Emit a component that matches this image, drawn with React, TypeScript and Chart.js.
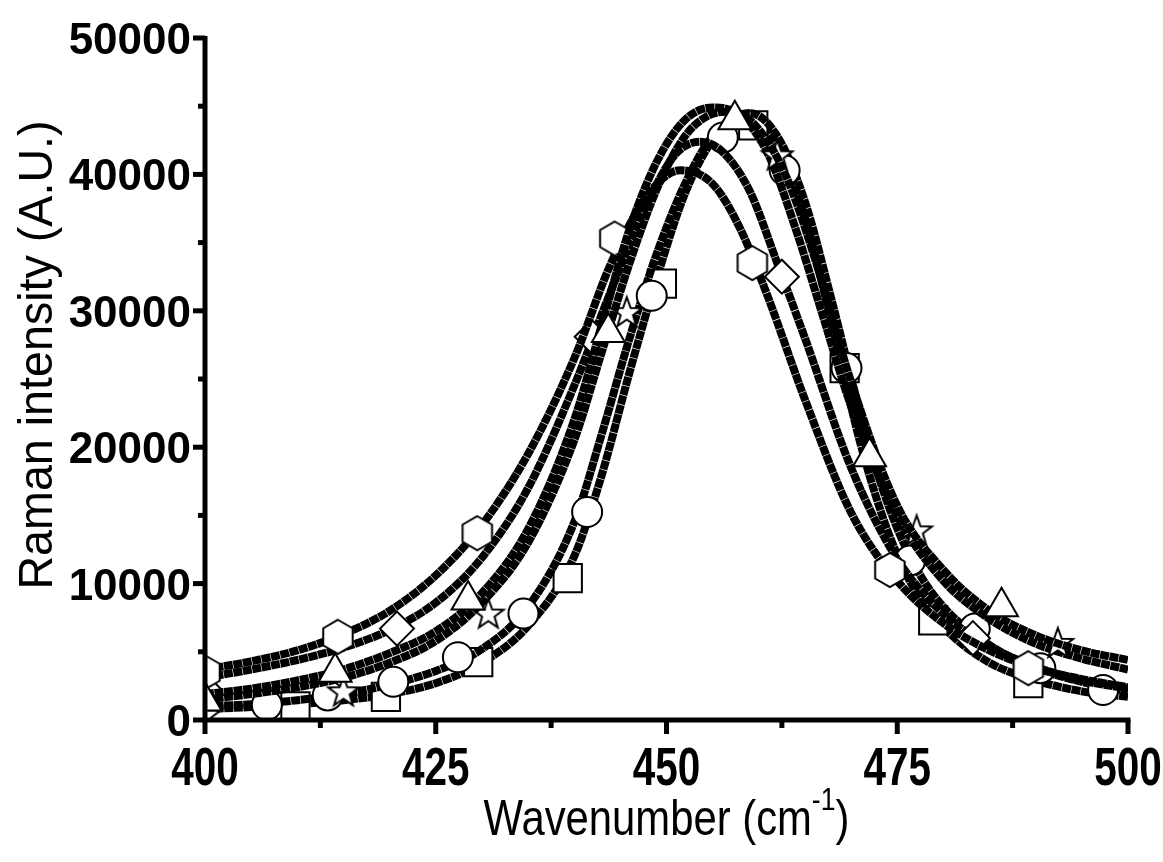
import React, { useEffect, useRef } from "react";
import { Chart, registerables } from "chart.js";

Chart.register(...registerables);

const FONT = '"Liberation Sans", Arial, Helvetica, sans-serif';

// ---- axes ----
const X_MIN = 400;
const X_MAX = 500;
const Y_MIN = 0;
const Y_MAX = 50000;
const X_STEP = 12.5; // minor step; labels every 25
const Y_STEP = 5000; // minor step; labels every 10000
const X_TITLE = "Wavenumber (cm";
const X_TITLE_SUP = "-1";
const X_TITLE_END = ")";
const Y_TITLE = "Raman intensity (A.U.)";

// ---- fitted curves ----
const hexCurveX = [400, 405, 410, 415, 420, 425, 430, 435, 440, 444, 448, 451.5, 455, 458, 461, 465, 470, 475, 480, 485, 490, 495, 500];
const hexCurveY = [3700, 4300, 5100, 6300, 8000, 10600, 14300, 19500, 26500, 33500, 38500, 40300, 39300, 36000, 31000, 23500, 15200, 10200, 7100, 5100, 3800, 3000, 2400];

const diaCurveX = [400, 405, 410, 415, 420, 425, 430, 435, 440, 444, 448, 451, 453.6, 456, 459, 462, 465, 470, 475, 480, 485, 490, 495, 500];
const diaCurveY = [3100, 3700, 4400, 5300, 6600, 8600, 11900, 17000, 24500, 31500, 38000, 41500, 42400, 41700, 38800, 33500, 28000, 18500, 11800, 7800, 5400, 3900, 2900, 2300];

const starCurveX = [400, 405, 410, 415, 420, 425, 430, 435, 440, 443, 446, 449, 452, 455, 458, 461, 464, 467, 470, 475, 480, 485, 490, 495, 500];
const starCurveY = [1900, 2300, 2900, 3700, 4900, 6500, 9300, 14000, 22000, 29000, 36000, 41000, 44000, 44900, 44300, 41500, 36000, 29500, 23000, 15000, 10200, 7400, 5600, 4500, 3700];

const triCurveX = [400, 405, 410, 415, 420, 425, 430, 435, 440, 443, 446, 449, 452, 454.5, 457, 460, 463, 466, 470, 475, 480, 485, 490, 495, 500];
const triCurveY = [1500, 1900, 2400, 3100, 4200, 5800, 8600, 13000, 20500, 27000, 33500, 39000, 42800, 44300, 44600, 43300, 39800, 34000, 24800, 15700, 11000, 8000, 6200, 5100, 4400];

const cirCurveX = [400, 405, 410, 415, 420, 425, 430, 435, 440, 443, 446, 449, 452, 455, 459, 462, 465, 468, 471, 474, 477, 480, 485, 490, 495, 500];
const cirCurveY = [1000, 1150, 1450, 1900, 2600, 3600, 5200, 8300, 14500, 21000, 28000, 34300, 39300, 42800, 44500, 42800, 38000, 30500, 22500, 15800, 11200, 8300, 5500, 3800, 2800, 2100];

const sqCurveX = [400, 405, 410, 415, 420, 425, 430, 435, 440, 443, 446, 449, 452, 455, 458.5, 462, 465, 468, 471, 474, 477, 480, 485, 490, 495, 500];
const sqCurveY = [800, 950, 1150, 1450, 1900, 2700, 4200, 6900, 12000, 18000, 25500, 32500, 38600, 42500, 44300, 42200, 36800, 28800, 20300, 13800, 9400, 6800, 4200, 2900, 2100, 1700];

// ---- measured points (markers) ----
const hexMarkX = [400, 414.4, 429.5, 444.4, 459.3, 474.2, 489.2];
const hexMarkY = [3500, 6100, 13700, 35300, 33500, 11000, 3800];

const diaMarkX = [400, 420.8, 441.9, 462.5, 483.2];
const diaMarkY = [2200, 6700, 28100, 32500, 6000];

const triMarkX = [400, 414.1, 428.5, 443.7, 457.4, 472, 486.3];
const triMarkY = [1400, 3500, 8800, 28400, 44000, 19300, 8300];

const starMarkX = [400, 415, 430.7, 445.7, 462, 477.1, 492.4];
const starMarkY = [400, 2100, 7800, 29900, 41400, 13900, 5650];

const sqMarkX = [409.8, 419.6, 429.6, 439.3, 449.5, 459.4, 469.3, 478.9, 489.2];
const sqMarkY = [1000, 1700, 4250, 10400, 32000, 43600, 25800, 7300, 2700];

const cirMarkX = [406.7, 413.3, 420.4, 427.4, 434.5, 441.4, 448.4, 456.1, 462.8, 469.5, 476.4, 483.4, 490.5, 497.3];
const cirMarkY = [1100, 1800, 2800, 4600, 7800, 15250, 31100, 42700, 40300, 25800, 11700, 6700, 3800, 2200];

const zip = (xs: number[], ys: number[]) => xs.map((x, i) => ({ x, y: ys[i] }));

function makeHexagon(r: number, lw: number): HTMLCanvasElement {
  const c = document.createElement("canvas");
  const s = Math.ceil(2 * r + 2 * lw + 2);
  c.width = s;
  c.height = s;
  const g = c.getContext("2d")!;
  g.translate(s / 2, s / 2);
  g.beginPath();
  for (let k = 0; k < 6; k++) {
    const a = -Math.PI / 2 + (k * Math.PI) / 3;
    const px = r * Math.cos(a);
    const py = r * Math.sin(a);
    if (k === 0) g.moveTo(px, py);
    else g.lineTo(px, py);
  }
  g.closePath();
  g.fillStyle = "#fff";
  g.fill();
  g.lineWidth = lw;
  g.strokeStyle = "#000";
  g.lineJoin = "miter";
  g.stroke();
  return c;
}

function makeStar(R: number, rin: number, lw: number): HTMLCanvasElement {
  const c = document.createElement("canvas");
  const s = Math.ceil(2 * R + 2 * lw + 4);
  c.width = s;
  c.height = s;
  const g = c.getContext("2d")!;
  g.translate(s / 2, s / 2 + 1);
  g.beginPath();
  for (let k = 0; k < 10; k++) {
    const a = -Math.PI / 2 + (k * Math.PI) / 5;
    const rr = k % 2 === 0 ? R : rin;
    const px = rr * Math.cos(a);
    const py = rr * Math.sin(a);
    if (k === 0) g.moveTo(px, py);
    else g.lineTo(px, py);
  }
  g.closePath();
  g.fillStyle = "#fff";
  g.fill();
  g.lineWidth = lw;
  g.strokeStyle = "#000";
  g.lineJoin = "miter";
  g.stroke();
  return c;
}

const originAxes = {
  id: "originAxes",
  afterDatasetsDraw(chart: any) {
    const { ctx, chartArea: a, scales } = chart;
    const xs = scales.x;
    const ys = scales.y;
    ctx.save();
    ctx.strokeStyle = "#000";
    ctx.fillStyle = "#000";
    ctx.lineCap = "butt";
    ctx.lineWidth = 5;
    ctx.beginPath();
    ctx.moveTo(a.left, a.top - 2);
    ctx.lineTo(a.left, a.bottom + 2.5);
    ctx.moveTo(a.left - 2.5, a.bottom);
    ctx.lineTo(a.right + 2.5, a.bottom);
    ctx.stroke();

    // y ticks + labels
    ctx.font = `bold 44px ${FONT}`;
    ctx.textAlign = "right";
    ctx.textBaseline = "alphabetic";
    ys.ticks.forEach((t: any) => {
      const py = ys.getPixelForValue(t.value);
      const major = Math.round(t.value) % 10000 === 0;
      const len = major ? 12 : 7;
      ctx.beginPath();
      ctx.moveTo(a.left, py);
      ctx.lineTo(a.left - len, py);
      ctx.stroke();
      if (major) {
        ctx.fillText(String(Math.round(t.value)), a.left - 14, py + 16);
      }
    });

    // x ticks + labels
    ctx.textAlign = "center";
    xs.ticks.forEach((t: any) => {
      const px = xs.getPixelForValue(t.value);
      const major = Math.abs(t.value / 25 - Math.round(t.value / 25)) < 1e-6;
      const len = major ? 14 : 8;
      ctx.beginPath();
      ctx.moveTo(px, a.bottom);
      ctx.lineTo(px, a.bottom + len);
      ctx.stroke();
      if (major) {
        ctx.save();
        ctx.translate(px, 785);
        ctx.scale(0.92, 1.2);
        ctx.fillText(String(Math.round(t.value)), 0, 0);
        ctx.restore();
      }
    });

    // y title
    ctx.save();
    ctx.font = `44px ${FONT}`;
    ctx.translate(52, (a.top + a.bottom) / 2 - 24);
    ctx.rotate(-Math.PI / 2);
    ctx.scale(1.06, 1.1);
    ctx.textAlign = "center";
    ctx.fillText(Y_TITLE, 0, 0);
    ctx.restore();

    // x title with superscript
    ctx.save();
    ctx.font = `44px ${FONT}`;
    ctx.textAlign = "left";
    const w1 = ctx.measureText(X_TITLE).width;
    ctx.font = `28px ${FONT}`;
    const w2 = ctx.measureText(X_TITLE_SUP).width;
    ctx.font = `44px ${FONT}`;
    const w3 = ctx.measureText(X_TITLE_END).width;
    const sx = 0.95;
    const total = (w1 + w2 + w3) * sx;
    const cx = (a.left + a.right) / 2;
    ctx.translate(cx - total / 2, 835);
    ctx.scale(sx, 1.12);
    ctx.fillText(X_TITLE, 0, 0);
    ctx.font = `28px ${FONT}`;
    ctx.fillText(X_TITLE_SUP, w1, -22);
    ctx.font = `44px ${FONT}`;
    ctx.fillText(X_TITLE_END, w1 + w2, 0);
    ctx.restore();

    ctx.restore();
  },
};

export default function App() {
  const ref = useRef<HTMLCanvasElement | null>(null);

  useEffect(() => {
    if (!ref.current) return;
    const hex = makeHexagon(17, 2);
    const star = makeStar(16, 6.5, 2);

    const lineDs = (data: { x: number; y: number }[], order: number) => ({
      type: "line" as const,
      data,
      borderColor: "#000",
      borderWidth: 8,
      borderDash: [9, 0.6],
      pointRadius: 0,
      pointHoverRadius: 0,
      cubicInterpolationMode: "monotone" as const,
      fill: false,
      order,
    });
    const markDs = (data: { x: number; y: number }[], style: any, radius: number, order: number) => ({
      type: "line" as const,
      data,
      showLine: false,
      pointStyle: style,
      pointRadius: radius,
      pointHoverRadius: radius,
      pointBackgroundColor: "#fff",
      pointBorderColor: "#000",
      pointBorderWidth: 2,
      clip: 0,
      order,
    });

    const chart = new Chart(ref.current, {
      type: "line",
      data: {
        datasets: [
          lineDs(zip(sqCurveX, sqCurveY), 12),
          markDs(zip(sqMarkX, sqMarkY), "rect", 20, 11),
          lineDs(zip(cirCurveX, cirCurveY), 10),
          markDs(zip(cirMarkX, cirMarkY), "circle", 15, 9),
          lineDs(zip(diaCurveX, diaCurveY), 8),
          markDs(zip(diaMarkX, diaMarkY), "rectRot", 17, 7),
          lineDs(zip(hexCurveX, hexCurveY), 6),
          markDs(zip(hexMarkX, hexMarkY), hex, 15, 5),
          lineDs(zip(starCurveX, starCurveY), 4),
          markDs(zip(starMarkX, starMarkY), star, 15, 3),
          lineDs(zip(triCurveX, triCurveY), 2),
          markDs(zip(triMarkX, triMarkY), "triangle", 19, 1),
        ] as any,
      },
      options: {
        animation: false,
        responsive: false,
        devicePixelRatio: 1,
        events: [],
        layout: { padding: { left: 0, top: 38, right: 35, bottom: 0 } },
        plugins: { legend: { display: false }, tooltip: { enabled: false }, title: { display: false } },
        scales: {
          x: {
            type: "linear",
            min: X_MIN,
            max: X_MAX,
            ticks: { display: false, stepSize: X_STEP },
            grid: { display: false },
            border: { display: false },
            afterFit: (s: any) => {
              s.height = 142;
            },
          },
          y: {
            type: "linear",
            min: Y_MIN,
            max: Y_MAX,
            ticks: { display: false, stepSize: Y_STEP },
            grid: { display: false },
            border: { display: false },
            afterFit: (s: any) => {
              s.width = 205;
            },
          },
        },
      },
      plugins: [originAxes],
    });
    return () => chart.destroy();
  }, []);

  return (
    <div style={{ position: "absolute", left: 0, top: 0, width: 1163, height: 862, background: "#fff" }}>
      <canvas ref={ref} width={1163} height={862} style={{ display: "block" }} />
    </div>
  );
}
